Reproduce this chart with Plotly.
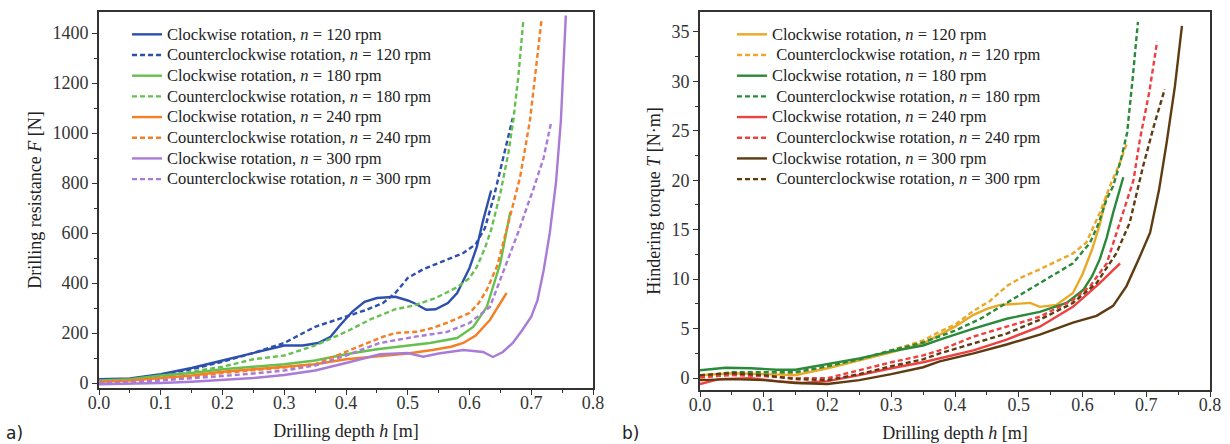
import plotly.graph_objects as go

# ---------------- (a) Drilling resistance ----------------
h_a_120_cw = [0, 0.05, 0.1, 0.15, 0.2, 0.25, 0.28, 0.3, 0.33, 0.355, 0.375, 0.39, 0.41, 0.43, 0.45, 0.47, 0.48, 0.5, 0.51, 0.53, 0.545, 0.565, 0.58, 0.59, 0.6, 0.612, 0.622, 0.635]
F_120_cw = [15, 18, 35, 60, 90, 120, 140, 150, 150, 160, 185, 230, 285, 325, 340, 345, 345, 330, 320, 293, 295, 320, 360, 410, 460, 545, 650, 770]
h_a_120_ccw = [0, 0.05, 0.1, 0.15, 0.2, 0.25, 0.3, 0.35, 0.375, 0.4, 0.43, 0.46, 0.48, 0.5, 0.525, 0.55, 0.57, 0.59, 0.61, 0.625, 0.64, 0.655, 0.67]
F_120_ccw = [10, 15, 30, 55, 85, 120, 160, 225, 245, 265, 290, 320, 360, 420, 455, 480, 500, 520, 555, 620, 750, 900, 1060]
h_a_180_cw = [0, 0.05, 0.1, 0.15, 0.2, 0.25, 0.3, 0.35, 0.4, 0.45, 0.482, 0.536, 0.58, 0.606, 0.628, 0.65, 0.666]
F_180_cw = [10, 15, 30, 40, 55, 65, 75, 90, 115, 135, 144, 160, 180, 224, 304, 480, 684]
h_a_180_ccw = [0, 0.05, 0.1, 0.15, 0.2, 0.25, 0.3, 0.35, 0.4, 0.44, 0.48, 0.51, 0.545, 0.58, 0.6, 0.612, 0.625, 0.635, 0.65, 0.663, 0.671, 0.679, 0.687]
F_180_ccw = [5, 10, 25, 45, 65, 95, 110, 150, 205, 255, 295, 310, 340, 383, 420, 465, 540, 612, 760, 920, 1052, 1224, 1445]
h_a_240_cw = [0, 0.05, 0.1, 0.15, 0.2, 0.25, 0.3, 0.35, 0.4, 0.45, 0.5, 0.54, 0.57, 0.59, 0.61, 0.633, 0.645, 0.66]
F_240_cw = [5, 10, 20, 30, 45, 55, 65, 75, 95, 105, 118, 132, 145, 160, 190, 252, 300, 360]
h_a_240_ccw = [0, 0.05, 0.1, 0.15, 0.2, 0.25, 0.3, 0.35, 0.375, 0.4, 0.43, 0.46, 0.48, 0.515, 0.54, 0.563, 0.6, 0.615, 0.628, 0.645, 0.66, 0.682, 0.698, 0.717]
F_240_ccw = [0, 5, 15, 25, 40, 50, 62, 75, 100, 125, 155, 185, 200, 205, 220, 240, 280, 320, 372, 470, 612, 824, 1052, 1460]
h_a_300_cw = [0, 0.05, 0.1, 0.15, 0.2, 0.25, 0.3, 0.35, 0.4, 0.455, 0.5, 0.525, 0.55, 0.59, 0.622, 0.638, 0.654, 0.67, 0.685, 0.7, 0.71, 0.72, 0.73, 0.74, 0.748, 0.756]
F_300_cw = [-5, -3, 0, 5, 12, 20, 32, 50, 80, 115, 120, 105, 118, 132, 124, 104, 124, 160, 210, 265, 330, 450, 600, 800, 1050, 1470]
h_a_300_ccw = [0, 0.05, 0.1, 0.15, 0.2, 0.25, 0.3, 0.35, 0.4, 0.455, 0.509, 0.563, 0.6, 0.633, 0.66, 0.68, 0.693, 0.703, 0.72, 0.732]
F_300_ccw = [0, 3, 10, 18, 28, 38, 50, 70, 110, 160, 184, 204, 240, 304, 480, 610, 704, 772, 900, 1040]

# ---------------- (b) Hindering torque ----------------
h_b_120_cw = [0, 0.05, 0.1, 0.15, 0.2, 0.25, 0.3, 0.35, 0.376, 0.4, 0.429, 0.45, 0.471, 0.497, 0.518, 0.533, 0.559, 0.585, 0.6, 0.615, 0.627, 0.638]
T_120_cw = [0.3, 0.5, 0.4, 0.3, 1.0, 1.8, 2.6, 3.5, 4.4, 5.2, 6.4, 7.0, 7.4, 7.5, 7.6, 7.2, 7.4, 8.6, 10.5, 13.0, 15.5, 18.5]
h_b_120_ccw = [0, 0.05, 0.1, 0.15, 0.2, 0.25, 0.3, 0.35, 0.376, 0.4, 0.429, 0.455, 0.481, 0.505, 0.533, 0.56, 0.585, 0.606, 0.627, 0.643, 0.657, 0.67]
T_120_ccw = [0.0, 0.4, 0.5, 0.5, 1.1, 1.9, 2.8, 3.8, 4.7, 5.4, 6.8, 7.8, 9.3, 10.2, 11.0, 11.8, 12.6, 13.7, 16.7, 19.4, 21.5, 23.8]
h_b_180_cw = [0, 0.04, 0.08, 0.12, 0.15, 0.2, 0.25, 0.3, 0.35, 0.376, 0.4, 0.429, 0.481, 0.533, 0.575, 0.601, 0.615, 0.627, 0.638, 0.648, 0.664]
T_180_cw = [0.8, 1.05, 1.0, 0.85, 0.85, 1.4, 2.0, 2.7, 3.3, 3.9, 4.4, 5.0, 6.0, 6.7, 7.6, 8.9, 10.3, 12.0, 14.2, 16.7, 20.3]
h_b_180_ccw = [0, 0.05, 0.1, 0.15, 0.2, 0.25, 0.3, 0.35, 0.4, 0.44, 0.481, 0.533, 0.585, 0.612, 0.625, 0.638, 0.648, 0.66, 0.67, 0.679, 0.687]
T_180_ccw = [0.2, 0.6, 0.6, 0.6, 1.2, 1.9, 2.8, 3.6, 4.8, 6.0, 7.6, 9.6, 11.6, 13.7, 15.6, 18.1, 19.4, 22.0, 24.8, 30.5, 36.0]
h_b_240_cw = [0, 0.03, 0.08, 0.12, 0.16, 0.2, 0.25, 0.3, 0.35, 0.376, 0.429, 0.481, 0.533, 0.585, 0.627, 0.659]
T_240_cw = [-0.6, -0.1, 0.0, -0.3, -0.5, -0.3, 0.3, 1.0, 1.6, 2.0, 2.8, 3.9, 5.2, 7.2, 9.6, 11.6]
h_b_240_ccw = [0, 0.05, 0.1, 0.15, 0.2, 0.25, 0.3, 0.35, 0.376, 0.429, 0.481, 0.533, 0.585, 0.612, 0.638, 0.664, 0.68, 0.69, 0.705, 0.717]
T_240_ccw = [0.1, 0.3, 0.2, 0.0, 0.0, 0.8, 1.6, 2.3, 2.8, 4.2, 5.2, 6.2, 7.9, 9.3, 11.6, 16.7, 20.0, 24.1, 29.0, 34.0]
h_b_300_cw = [0, 0.05, 0.1, 0.15, 0.2, 0.25, 0.3, 0.35, 0.376, 0.429, 0.481, 0.533, 0.585, 0.622, 0.648, 0.669, 0.69, 0.706, 0.72, 0.732, 0.745, 0.756]
T_300_cw = [-0.2, -0.1, -0.2, -0.5, -0.6, -0.2, 0.4, 1.1, 1.7, 2.5, 3.4, 4.4, 5.6, 6.3, 7.3, 9.3, 12.3, 14.7, 19.0, 23.8, 29.5, 35.6]
h_b_300_ccw = [0, 0.05, 0.1, 0.15, 0.2, 0.25, 0.3, 0.35, 0.376, 0.429, 0.481, 0.533, 0.585, 0.622, 0.653, 0.674, 0.695, 0.712, 0.729]
T_300_ccw = [0.3, 0.5, 0.3, -0.1, -0.2, 0.4, 1.2, 1.9, 2.5, 3.5, 4.5, 5.9, 7.6, 9.6, 12.6, 15.7, 21.4, 25.5, 29.2]

speeds = [120, 180, 240, 300]
colors_a = ["#2D4FAE", "#66C050", "#F47F24", "#A97BD6"]
colors_b = ["#E9A825", "#2A8A3A", "#EE4040", "#5E3B10"]

series_a = [
    (h_a_120_cw, F_120_cw, h_a_120_ccw, F_120_ccw),
    (h_a_180_cw, F_180_cw, h_a_180_ccw, F_180_ccw),
    (h_a_240_cw, F_240_cw, h_a_240_ccw, F_240_ccw),
    (h_a_300_cw, F_300_cw, h_a_300_ccw, F_300_ccw),
]
series_b = [
    (h_b_120_cw, T_120_cw, h_b_120_ccw, T_120_ccw),
    (h_b_180_cw, T_180_cw, h_b_180_ccw, T_180_ccw),
    (h_b_240_cw, T_240_cw, h_b_240_ccw, T_240_ccw),
    (h_b_300_cw, T_300_cw, h_b_300_ccw, T_300_ccw),
]

SERIF = "Liberation Serif"
DASH = "5px,3px"
LW = 2.4


def label(txt):
    return f'<span style="font-size:16.5px">{txt}</span>'


fig = go.Figure()
for (hc, vc, hcc, vcc), n, c in zip(series_a, speeds, colors_a):
    fig.add_trace(go.Scatter(x=hc, y=vc, mode="lines", line=dict(color=c, width=LW),
                             name=label(f"Clockwise rotation, <i>n</i> = {n} rpm"),
                             xaxis="x", yaxis="y", legend="legend"))
    fig.add_trace(go.Scatter(x=hcc, y=vcc, mode="lines", line=dict(color=c, width=LW, dash=DASH),
                             name=label(f"Counterclockwise rotation, <i>n</i> = {n} rpm"),
                             xaxis="x", yaxis="y", legend="legend"))
for (hc, vc, hcc, vcc), n, c in zip(series_b, speeds, colors_b):
    fig.add_trace(go.Scatter(x=hc, y=vc, mode="lines", line=dict(color=c, width=LW),
                             name=label(f"Clockwise rotation, <i>n</i> = {n} rpm"),
                             xaxis="x2", yaxis="y2", legend="legend2"))
    fig.add_trace(go.Scatter(x=hcc, y=vcc, mode="lines", line=dict(color=c, width=LW, dash=DASH),
                             name=label(f" Counterclockwise rotation, <i>n</i> = {n} rpm"),
                             xaxis="x2", yaxis="y2", legend="legend2"))

W, H = 1230, 444
axis_common = dict(
    automargin=False,
    showline=True, linecolor="#333", linewidth=1.6, mirror=True,
    ticks="outside", ticklen=5, tickwidth=1.4, tickcolor="#333",
    showgrid=False, zeroline=False,
    tickfont=dict(family=SERIF, size=18, color="#333"),
    title_font=dict(family=SERIF, size=18, color="#222"),
)
xa = dict(axis_common, range=[0, 0.8], dtick=0.1, tickformat=".1f",
          ticklabelstandoff=-7,
          minor=dict(dtick=0.05, ticks="outside", ticklen=3, tickwidth=1.2, tickcolor="#333"),
          title=dict(text="Drilling depth <i>h</i> [m]", standoff=12))

leg_common = dict(xanchor="left", yanchor="top", bgcolor="rgba(0,0,0,0)",
                  font=dict(family=SERIF, size=13.6, color="#222"),
                  tracegroupgap=0, itemwidth=30)

fig.update_layout(
    width=W, height=H,
    margin=dict(l=0, r=0, t=0, b=0),
    paper_bgcolor="white", plot_bgcolor="white",
    xaxis=dict(xa, domain=[99 / W, 593 / W], anchor="y"),
    yaxis=dict(axis_common, domain=[1 - 388 / H, 1 - 12 / H], anchor="x",
               range=[-20, 1484], dtick=200, ticklabelstandoff=0,
               minor=dict(dtick=100, ticks="outside", ticklen=3, tickwidth=1.2, tickcolor="#333"),
               title=dict(text="Drilling resistance <i>F</i> [N]", standoff=6)),
    xaxis2=dict(xa, domain=[700 / W, 1210 / W], anchor="y2"),
    yaxis2=dict(axis_common, domain=[1 - 390 / H, 1 - 12 / H], anchor="x2",
                range=[-1.2, 37.0], dtick=5, ticklabelstandoff=0,
                minor=dict(dtick=2.5, ticks="outside", ticklen=3, tickwidth=1.2, tickcolor="#333"),
                title=dict(text="Hindering torque <i>T</i> [N·m]", standoff=6)),
    legend=dict(leg_common, x=127 / W, y=1 - 19 / H),
    legend2=dict(leg_common, x=732 / W, y=1 - 19 / H),
    showlegend=True,
    annotations=[
        dict(text="a)", x=4 / W, y=1 - 433 / H, xref="paper", yref="paper",
             xanchor="left", yanchor="middle", showarrow=False,
             font=dict(family="DejaVu Sans", size=17, color="#222")),
        dict(text="b)", x=620 / W, y=1 - 433 / H, xref="paper", yref="paper",
             xanchor="left", yanchor="middle", showarrow=False,
             font=dict(family="DejaVu Sans", size=17, color="#222")),
    ],
)

fig.write_html("out.html", config={"displayModeBar": False},
               post_script="document.body.style.margin='0';document.body.style.padding='0';")
